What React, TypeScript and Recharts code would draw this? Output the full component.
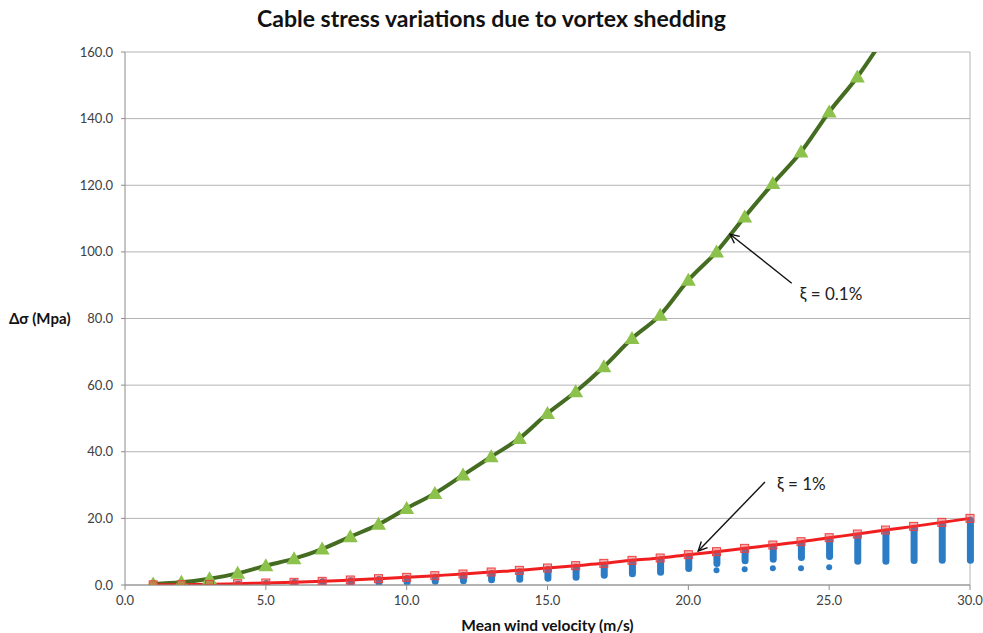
import React from "react";
import {
  ComposedChart,
  Line,
  Bar,
  Scatter,
  XAxis,
  YAxis,
  CartesianGrid,
  ReferenceLine,
} from "recharts";

// mean wind velocity (m/s)
const velocity = [
  1, 2, 3, 4, 5, 6, 7, 8, 9, 10, 11, 12, 13, 14, 15, 16, 17, 18, 19, 20, 21, 22,
  23, 24, 25, 26, 27, 28, 29, 30,
];

// stress range, damping 0.1% (goes off the top of the scale after 26 m/s)
const stressXi01 = [
  0.3, 0.8, 1.9, 3.5, 5.8, 7.9, 10.8, 14.5, 18.2, 23.0, 27.5, 33.0, 38.5, 44.0,
  51.5, 58.0, 65.5, 74.0, 81.0, 91.5, 100.0, 110.5, 120.5, 130.0, 142.0, 152.5,
  165.0,
];

// stress range, damping 1%
const stressXi1 = [
  0.05, 0.1, 0.2, 0.4, 0.6, 0.8, 1.1, 1.5, 1.9, 2.3, 2.8, 3.3, 3.9, 4.4, 5.1,
  5.8, 6.5, 7.4, 8.1, 9.1, 10.0, 11.0, 12.0, 13.0, 14.2, 15.3, 16.5, 17.6, 18.8,
  20.0,
];

// spread of the simulated samples at each velocity (blue columns)
const sampleLow = [
  0.0, 0.0, 0.1, 0.2, 0.3, 0.4, 0.5, 0.6, 0.6, 0.7, 1.0, 1.1, 1.4, 1.6, 1.9,
  2.2, 2.8, 3.2, 3.7, 4.8, 6.3, 7.1, 7.6, 8.1, 8.4, 7.0, 7.0, 7.2, 7.3, 7.3,
];
const sampleHigh = [
  0.1, 0.1, 0.2, 0.4, 0.6, 0.9, 1.1, 1.4, 1.8, 2.1, 2.5, 3.0, 3.6, 4.1, 4.8,
  5.5, 6.1, 7.0, 7.7, 8.7, 9.5, 10.4, 11.3, 12.3, 13.5, 14.8, 16.0, 17.2, 18.4,
  19.6,
];

// isolated samples below the columns
const outlierVelocity = [21, 22, 23, 24, 25];
const outlierStress = [4.4, 4.7, 5.0, 5.0, 5.3];

const xTicks = [0, 5, 10, 15, 20, 25, 30];
const yTicks = [0, 20, 40, 60, 80, 100, 120, 140, 160];

const rows = velocity.map((v, i) => ({
  v,
  xi01: i < stressXi01.length ? stressXi01[i] : null,
  xi1: stressXi1[i],
  samples: [sampleLow[i], sampleHigh[i]],
}));

const outliers = outlierVelocity.map((v, i) => ({ v, s: outlierStress[i] }));

const FONT = "Lato, 'Open Sans', sans-serif";
const BLUE = "#2b7cc4";

const Triangle = (props: any) => {
  const { cx, cy } = props;
  if (cx == null || cy == null) return null;
  return (
    <path
      d={`M${cx},${cy - 7.5} L${cx + 7.5},${cy + 5.5} L${cx - 7.5},${cy + 5.5} Z`}
      fill="#8cc14c"
    />
  );
};

// translucent square so the samples underneath still show through
const Square = (props: any) => {
  const { cx, cy } = props;
  if (cx == null || cy == null) return null;
  return (
    <rect
      x={cx - 4}
      y={cy - 4}
      width={8}
      height={8}
      fill="rgba(240, 70, 70, 0.45)"
      stroke="#ee4040"
      strokeWidth={1}
    />
  );
};

// column of samples, rounded so the ends look like the dots they are made of
const SampleColumn = (props: any) => {
  const { x, y, width, height } = props;
  if (x == null || y == null) return null;
  const top = Math.min(y, y + height);
  const h = Math.abs(height);
  return (
    <rect
      x={x}
      y={top - 3}
      width={width}
      height={h + 6}
      rx={width / 2}
      fill={BLUE}
    />
  );
};

const Dot = (props: any) => {
  const { cx, cy } = props;
  return <circle cx={cx} cy={cy} r={3} fill={BLUE} />;
};

// arrow pointing at a curve, with its caption at the tail
const arrowWithText = (text: string, dx: number, dy: number) => (props: any) => {
  const { x1, y1, x2, y2 } = props;
  const ang = Math.atan2(y2 - y1, x2 - x1);
  const len = 10;
  const spread = 0.45;
  const ax = x2 - len * Math.cos(ang - spread);
  const ay = y2 - len * Math.sin(ang - spread);
  const bx = x2 - len * Math.cos(ang + spread);
  const by = y2 - len * Math.sin(ang + spread);
  return (
    <g>
      <line x1={x1} y1={y1} x2={x2} y2={y2} stroke="#111" strokeWidth={1.4} />
      <polyline
        points={`${ax},${ay} ${x2},${y2} ${bx},${by}`}
        fill="none"
        stroke="#111"
        strokeWidth={1.4}
      />
      <text
        x={x1 + dx}
        y={y1 + dy}
        dominantBaseline="central"
        fontFamily={FONT}
        fontSize={17}
        fill="#222"
      >
        {text}
      </text>
    </g>
  );
};

export default function App() {
  return (
    <div
      style={{
        position: "absolute",
        left: 0,
        top: 0,
        width: 983,
        height: 633,
        background: "#fff",
      }}
    >
      <div
        style={{
          position: "absolute",
          left: 0,
          top: 4,
          width: 983,
          textAlign: "center",
          fontFamily: FONT,
          fontWeight: 700,
          fontSize: 23,
          color: "#111",
        }}
      >
        Cable stress variations due to vortex shedding
      </div>
      <ComposedChart
        width={983}
        height={633}
        data={rows}
        margin={{ top: 52, right: 13, bottom: 0, left: 0 }}
      >
        <CartesianGrid vertical={false} stroke="#b4b4b4" />
        <XAxis
          type="number"
          dataKey="v"
          domain={[0, 30]}
          ticks={xTicks}
          tickFormatter={(t: number) => t.toFixed(1)}
          height={48}
          tickSize={5}
          tickMargin={6}
          stroke="#8c8c8c"
          tick={{ fontSize: 13, fill: "#404040", fontFamily: FONT }}
          label={{
            value: "Mean wind velocity (m/s)",
            position: "insideBottom",
            offset: 2,
            fontSize: 15.5,
            fontWeight: 700,
            fill: "#111",
            fontFamily: FONT,
          }}
        />
        <YAxis
          type="number"
          domain={[0, 160]}
          ticks={yTicks}
          allowDataOverflow
          tickFormatter={(t: number) => t.toFixed(1)}
          width={125}
          tickSize={4}
          tickMargin={8}
          stroke="#8c8c8c"
          tick={{ fontSize: 13, fill: "#404040", fontFamily: FONT }}
          label={{
            value: "Δσ (Mpa)",
            position: "insideLeft",
            offset: 9,
            fontSize: 15,
            fontWeight: 700,
            fill: "#111",
            fontFamily: FONT,
          }}
        />
        <ReferenceLine x={30} stroke="#b4b4b4" />
        <Line
          type="monotone"
          dataKey="xi01"
          stroke="#456d22"
          strokeWidth={4}
          dot={<Triangle />}
          activeDot={false}
          zIndex={410}
          isAnimationActive={false}
        />
        <Bar
          dataKey="samples"
          barSize={7}
          shape={<SampleColumn />}
          zIndex={420}
          isAnimationActive={false}
        />
        <Scatter
          data={outliers}
          dataKey="s"
          shape={<Dot />}
          zIndex={420}
          isAnimationActive={false}
        />
        <Line
          type="monotone"
          dataKey="xi1"
          stroke="#f01e1e"
          strokeWidth={3}
          dot={<Square />}
          activeDot={false}
          zIndex={430}
          isAnimationActive={false}
        />
        <ReferenceLine
          segment={[
            { x: 23.67, y: 90.6 },
            { x: 21.48, y: 105.3 },
          ]}
          zIndex={800}
          shape={arrowWithText("ξ = 0.1%", 8, 10)}
        />
        <ReferenceLine
          segment={[
            { x: 22.72, y: 30.9 },
            { x: 20.35, y: 10.2 },
          ]}
          zIndex={800}
          shape={arrowWithText("ξ = 1%", 12, 1)}
        />
      </ComposedChart>
    </div>
  );
}
